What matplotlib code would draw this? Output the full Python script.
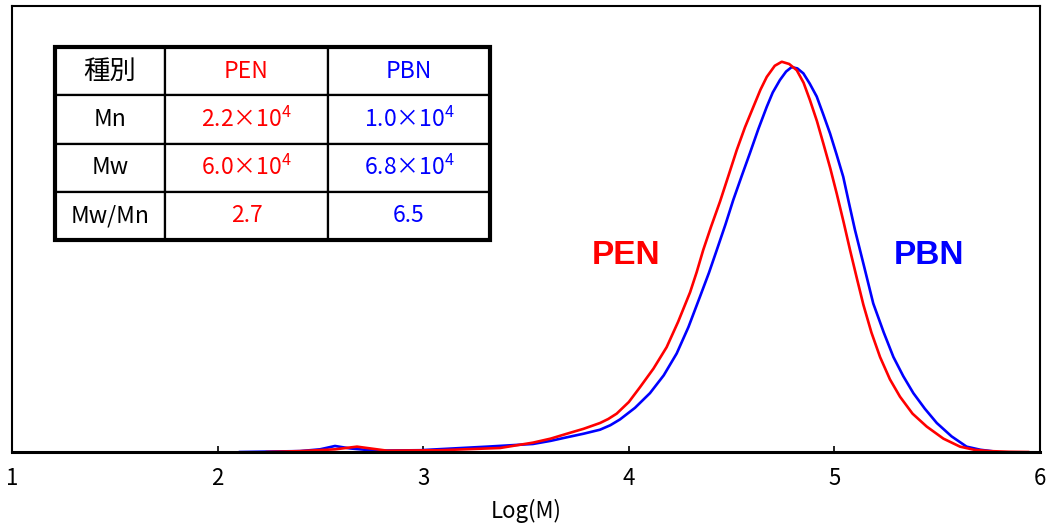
import matplotlib
matplotlib.use("Agg")
import matplotlib.pyplot as plt
from matplotlib.patches import Rectangle

plt.rcParams['font.family'] = ['Noto Sans CJK JP', 'DejaVu Sans']
plt.rcParams['mathtext.fontset'] = 'custom'
plt.rcParams['mathtext.rm'] = 'Noto Sans CJK JP'

# ---- data ----
logm_pbn = [2.109, 2.401, 2.498, 2.571, 2.644, 2.766, 2.984, 3.310, 3.534, 3.62,
            3.699, 3.78, 3.860, 3.91, 3.957, 4.03, 4.103, 4.17, 4.233, 4.29,
            4.346, 4.39, 4.428, 4.47, 4.508, 4.55, 4.589, 4.63, 4.671, 4.70,
            4.735, 4.765, 4.792, 4.82, 4.849, 4.88, 4.914, 4.945, 4.979, 5.01,
            5.043, 5.07, 5.100, 5.145, 5.189, 5.24, 5.287, 5.335, 5.384, 5.44,
            5.498, 5.57, 5.643, 5.71, 5.781]
y_pbn = [0.000, 0.002, 0.006, 0.0135, 0.008, 0.003, 0.004, 0.012, 0.018, 0.025,
         0.033, 0.041, 0.050, 0.060, 0.073, 0.099, 0.132, 0.172, 0.221, 0.280,
         0.348, 0.402, 0.453, 0.510, 0.565, 0.620, 0.670, 0.724, 0.774, 0.806,
         0.834, 0.853, 0.863, 0.860, 0.849, 0.826, 0.797, 0.758, 0.714, 0.668,
         0.617, 0.560, 0.498, 0.415, 0.333, 0.268, 0.213, 0.170, 0.132, 0.097,
         0.065, 0.035, 0.012, 0.005, 0.001]

logm_pen = [2.240, 2.400, 2.571, 2.678, 2.824, 3.082, 3.374, 3.534, 3.62, 3.699,
            3.78, 3.860, 3.90, 3.941, 4.00, 4.054, 4.12, 4.184, 4.24, 4.298,
            4.33, 4.362, 4.40, 4.444, 4.485, 4.525, 4.565, 4.606, 4.64, 4.671,
            4.71, 4.744, 4.78, 4.817, 4.85, 4.881, 4.915, 4.946, 4.98, 5.011,
            5.045, 5.076, 5.11, 5.141, 5.18, 5.222, 5.27, 5.319, 5.38, 5.449,
            5.53, 5.611, 5.68, 5.757, 5.85, 5.942]
y_pen = [0.000, 0.002, 0.006, 0.012, 0.003, 0.004, 0.009, 0.021, 0.030, 0.041,
         0.052, 0.065, 0.074, 0.086, 0.112, 0.145, 0.187, 0.235, 0.292, 0.358,
         0.403, 0.453, 0.505, 0.562, 0.620, 0.677, 0.728, 0.774, 0.812, 0.841,
         0.866, 0.875, 0.870, 0.856, 0.828, 0.789, 0.742, 0.692, 0.636, 0.580,
         0.515, 0.453, 0.388, 0.330, 0.268, 0.213, 0.163, 0.124, 0.086, 0.057,
         0.030, 0.012, 0.005, 0.002, 0.0005, 0.000]

xticks = [1, 2, 3, 4, 5, 6]
table_header = ['種別', 'PEN', 'PBN']
table_rows = [['Mn', '2.2×10$^{4}$', '1.0×10$^{4}$'],
              ['Mw', '6.0×10$^{4}$', '6.8×10$^{4}$'],
              ['Mw/Mn', '2.7', '6.5']]
red = '#FF0000'
blue = '#0000FF'

fig = plt.figure(figsize=(10.46, 5.30), dpi=100)
ax = fig.add_axes([12/1046, 78/530, 1028/1046, 446/530])

ax.plot(logm_pbn, y_pbn, color=blue, lw=1.9, solid_joinstyle='round')
ax.plot(logm_pen, y_pen, color=red, lw=1.9, solid_joinstyle='round')

ax.set_xlim(1, 6)
ax.set_ylim(0, 1)
ax.set_xticks(xticks)
ax.set_xticklabels([str(t) for t in xticks], fontsize=16)
ax.tick_params(axis='x', direction='in', length=4, width=1.2, pad=11)
ax.set_yticks([])
for s in ['left', 'top', 'right']:
    ax.spines[s].set_linewidth(1.5)
ax.spines['bottom'].set_linewidth(2.2)
ax.set_xlabel('Log(M)', fontsize=16, labelpad=6)

ax.text((626-12)/1028, (452-256)/446, 'PEN', transform=ax.transAxes,
        color=red, fontsize=24, fontweight='bold', family='Liberation Sans',
        ha='center', va='center')
ax.text((929-12)/1028, (452-256)/446, 'PBN', transform=ax.transAxes,
        color=blue, fontsize=24, fontweight='bold', family='Liberation Sans',
        ha='center', va='center')

# ---- table ----
x0 = (55-12)/1028; w = 435/1028
y0 = (452-240)/446; h = 193/446
cell_text = [table_header] + table_rows
tbl = ax.table(cellText=cell_text, colWidths=[110, 163, 162],
               bbox=[x0, y0, w, h], cellLoc='center')
tbl.auto_set_font_size(False)
colors = ['black', red, blue]
for (r, c), cell in tbl.get_celld().items():
    cell.set_linewidth(1.6)
    cell.set_edgecolor('black')
    cell.get_text().set_color(colors[c])
    cell.get_text().set_fontsize(16.5)
    cell.get_text().set_fontfamily(['Noto Sans CJK JP', 'DejaVu Sans'])
    if r == 0 and c == 0:
        cell.get_text().set_fontsize(19)
ax.add_patch(Rectangle((x0, y0), w, h, transform=ax.transAxes, fill=False,
                       lw=3, edgecolor='black', zorder=10))

fig.savefig('out.png', dpi=100)
